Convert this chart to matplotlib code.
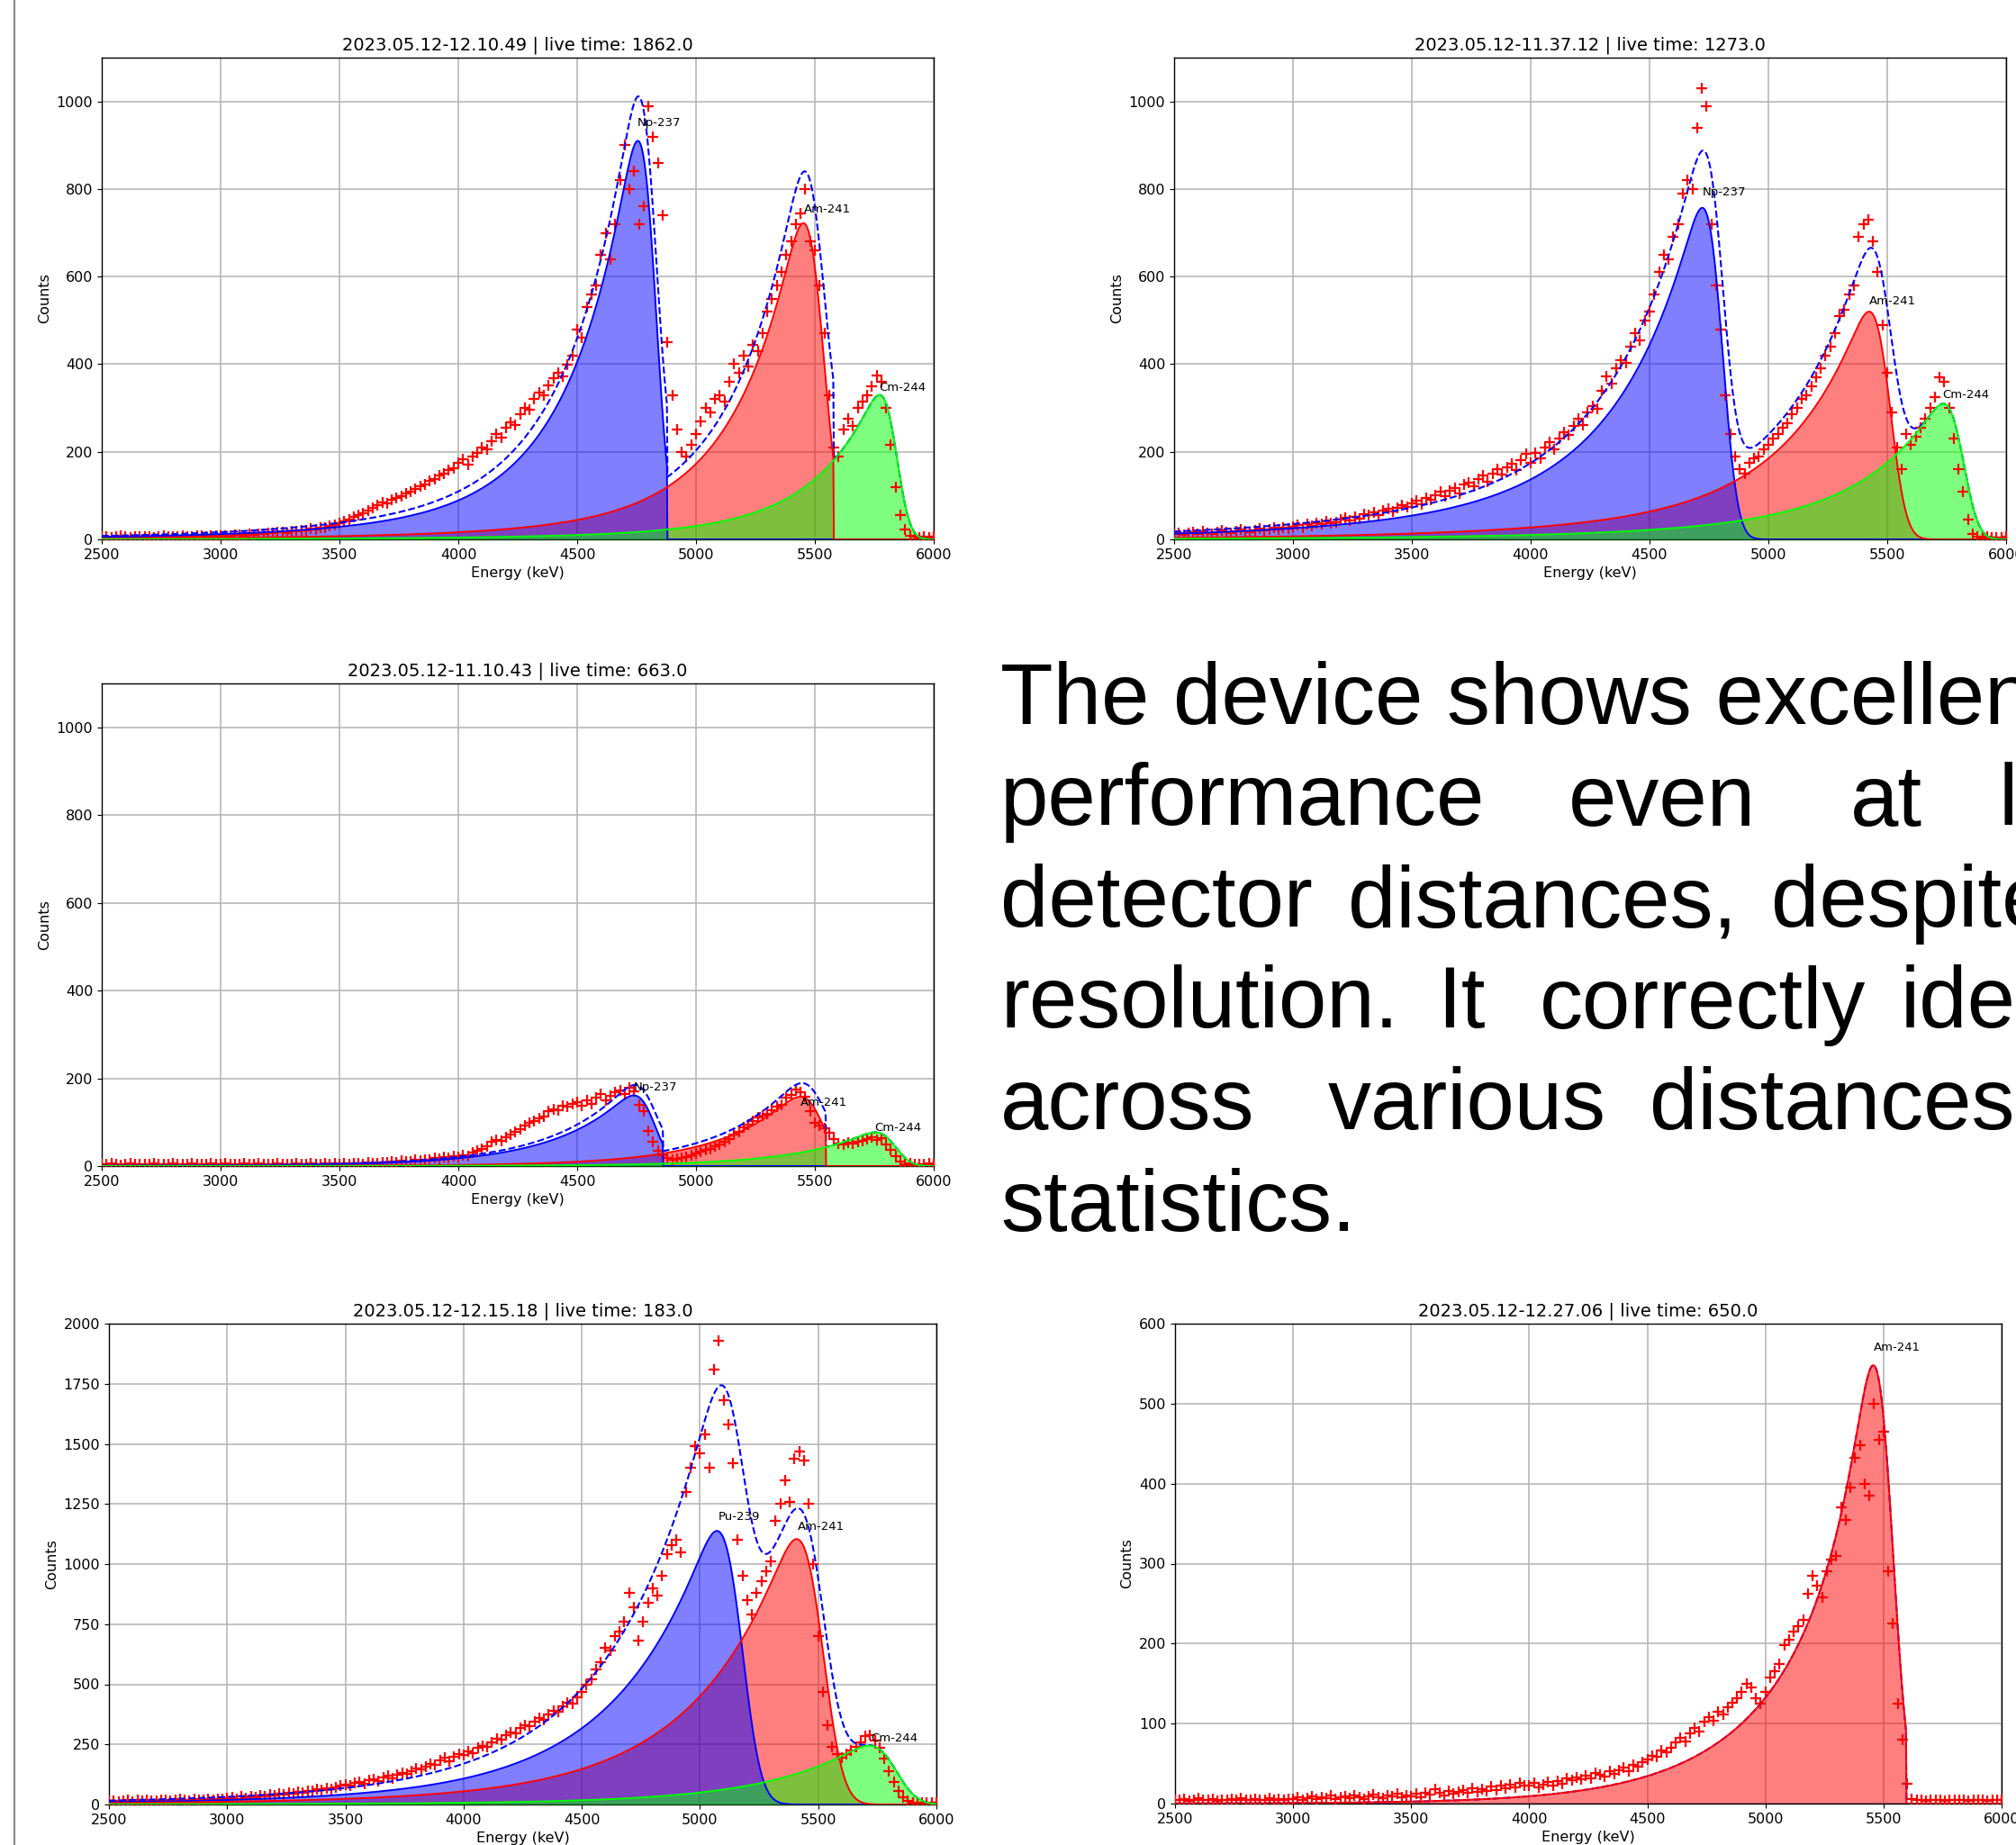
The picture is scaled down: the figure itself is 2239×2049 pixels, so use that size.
import math
import numpy as np
import matplotlib
matplotlib.use("Agg")
import matplotlib.pyplot as plt
from matplotlib.lines import Line2D

# bin centres of the plotted spectra (keV)
energy = np.arange(2500, 6001, 20)

# ---- panel 1 ----
p1_title = "2023.05.12-12.10.49 | live time: 1862.0"
p1_counts = [
    6, 7, 5, 6, 8, 6, 5, 7, 6, 6, 7, 5, 6, 8, 7, 6, 7, 8, 6, 7, 9, 8, 7, 8, 9,
    8, 9, 8, 10, 11, 9, 12, 11, 13, 12, 15, 14, 16, 17, 15, 19, 18, 21, 20, 24, 23, 27, 26, 30, 33,
    38, 42, 46, 52, 55, 60, 66, 72, 78, 85, 82, 90, 95, 98, 104, 110, 115, 122, 126, 134, 138, 146, 150, 158, 162,
    175, 182, 170, 190, 198, 210, 205, 225, 240, 232, 255, 268, 262, 285, 300, 296, 320, 335, 328, 352, 368, 380, 372, 398, 420,
    480, 460, 530, 560, 580, 650, 700, 640, 720, 820, 900, 800, 840, 720, 760, 990, 920, 860, 740, 450, 330, 250, 200, 190, 215,
    240, 270, 300, 290, 320, 330, 315, 360, 400, 380, 420, 395, 445, 430, 470, 520, 550, 580, 610, 650, 680, 720, 745, 800, 680,
    660, 580, 470, 330, 210, 190, 250, 275, 260, 300, 315, 330, 350, 375, 360, 300, 215, 120, 55, 22, 8, 6, 5, 7, 5,
    6,
]
p1_isotopes = ["Np-237", "Am-241", "Cm-244"]
p1_peak_e = [4755, 5452, 5772]
p1_peak_h = [910, 722, 330]
p1_sigma = [47, 54, 44]
p1_cutoff = [4878, 5578, None]
p1_tail = (250, 700, 0.12)
p1_label_x = [4754, 5454, 5768]
p1_label_y = [950, 753, 347]

# ---- panel 2 ----
p2_title = "2023.05.12-11.37.12 | live time: 1273.0"
p2_counts = [
    12, 15, 10, 14, 16, 12, 18, 15, 13, 17, 20, 16, 14, 18, 22, 19, 17, 21, 24, 20, 23, 26, 22, 27, 25,
    28, 32, 26, 35, 30, 38, 34, 42, 36, 40, 45, 50, 44, 52, 48, 58, 55, 62, 56, 66, 70, 63, 72, 78, 74,
    82, 88, 80, 95, 90, 100, 108, 98, 112, 118, 105, 125, 130, 122, 138, 145, 132, 150, 160, 148, 165, 172, 158, 180, 195,
    175, 198, 185, 210, 222, 205, 230, 245, 238, 260, 275, 262, 290, 305, 298, 340, 372, 355, 390, 410, 402, 440, 470, 455, 500,
    520, 560, 610, 650, 640, 690, 720, 790, 820, 800, 940, 1030, 990, 720, 580, 480, 330, 240, 190, 160, 150, 175, 185, 190, 205,
    215, 230, 240, 255, 265, 285, 300, 320, 330, 350, 370, 390, 420, 440, 470, 510, 525, 560, 580, 690, 720, 730, 680, 610, 490,
    380, 290, 210, 160, 240, 215, 235, 255, 275, 300, 325, 370, 360, 300, 230, 160, 110, 45, 12, 6, 5, 6, 5, 4, 5,
    6,
]
p2_isotopes = ["Np-237", "Am-241", "Cm-244"]
p2_peak_e = [4722, 5424, 5736]
p2_peak_h = [757, 520, 310]
p2_sigma = [50, 53, 50]
p2_cutoff = [None, None, None]
p2_tail = (300, 800, 0.22)
p2_label_x = [4723, 5423, 5732]
p2_label_y = [792, 544, 330]

# ---- panel 3 ----
p3_title = "2023.05.12-11.10.43 | live time: 663.0"
p3_counts = [
    5, 4, 6, 5, 3, 5, 6, 4, 5, 5, 4, 6, 5, 4, 5, 6, 5, 4, 5, 6, 4, 5, 5, 6, 4,
    5, 6, 4, 5, 5, 6, 4, 5, 6, 5, 4, 5, 6, 5, 5, 4, 6, 5, 5, 6, 5, 4, 6, 5, 6,
    5, 6, 5, 7, 6, 5, 8, 7, 6, 9, 8, 10, 9, 12, 11, 10, 14, 13, 15, 14, 18, 16, 20, 19, 22,
    20, 25, 22, 30, 34, 38, 45, 55, 60, 58, 66, 72, 78, 85, 92, 98, 102, 108, 112, 125, 130, 128, 138, 135, 142,
    145, 138, 150, 142, 155, 165, 150, 160, 168, 172, 165, 178, 170, 140, 125, 80, 56, 35, 25, 18, 14, 16, 18, 20, 24,
    28, 32, 36, 40, 45, 50, 55, 62, 72, 78, 88, 95, 102, 110, 115, 119, 128, 135, 140, 155, 162, 175, 168, 158, 125,
    98, 92, 86, 75, 62, 52, 50, 54, 52, 56, 58, 62, 66, 60, 64, 50, 36, 22, 10, 5, 6, 5, 4, 5, 6,
    5,
]
p3_isotopes = ["Np-237", "Am-241", "Cm-244"]
p3_peak_e = [4738, 5438, 5754]
p3_peak_h = [161, 158, 77]
p3_sigma = [55, 62, 52]
p3_cutoff = [4860, 5545, None]
p3_tail = (300, 700, 0.05)
p3_label_x = [4738, 5438, 5751]
p3_label_y = [179, 145, 88]

# ---- panel 4 ----
p4_title = "2023.05.12-12.15.18 | live time: 183.0"
p4_counts = [
    14, 16, 12, 15, 18, 13, 17, 15, 19, 14, 16, 18, 20, 15, 17, 21, 19, 16, 22, 18, 20, 23, 19, 24, 22,
    26, 30, 24, 32, 28, 35, 31, 38, 34, 40, 36, 44, 42, 48, 45, 52, 50, 58, 55, 62, 60, 68, 65, 72, 78,
    82, 78, 90, 95, 88, 100, 105, 98, 112, 118, 110, 125, 132, 128, 140, 150, 145, 158, 170, 165, 185, 195, 180, 200, 210,
    205, 220, 215, 235, 245, 240, 260, 275, 268, 290, 300, 295, 318, 330, 325, 345, 360, 352, 375, 390, 385, 410, 425, 418, 445,
    470, 500, 520, 560, 590, 650, 640, 700, 720, 760, 880, 820, 680, 760, 840, 900, 870, 950, 1040, 1080, 1100, 1050, 1300, 1400, 1490,
    1460, 1540, 1400, 1810, 1930, 1680, 1580, 1420, 1100, 950, 850, 790, 880, 930, 970, 1010, 1180, 1250, 1350, 1260, 1440, 1470, 1430, 1250, 1000,
    700, 470, 330, 240, 210, 195, 210, 225, 240, 260, 285, 290, 265, 235, 190, 140, 95, 55, 30, 14, 8, 9, 7, 8, 9,
    8,
]
p4_isotopes = ["Pu-239", "Am-241", "Cm-244"]
p4_peak_e = [5072, 5409, 5716]
p4_peak_h = [1138, 1104, 245]
p4_sigma = [64, 68, 70]
p4_cutoff = [None, None, None]
p4_tail = (380, 900, 0.10)
p4_label_x = [5078, 5413, 5723]
p4_label_y = [1195, 1157, 276]

# ---- panel 5 ----
p5_title = "2023.05.12-12.27.06 | live time: 650.0"
p5_counts = [
    5, 4, 6, 3, 5, 7, 4, 5, 6, 3, 5, 4, 6, 5, 7, 4, 5, 6, 4, 5, 7, 5, 6, 4, 6,
    6, 8, 5, 7, 9, 6, 8, 7, 10, 6, 8, 9, 7, 10, 8, 6, 9, 11, 8, 7, 10, 9, 12, 8, 10,
    9, 12, 8, 14, 11, 18, 13, 10, 16, 12, 15, 17, 13, 19, 15, 18, 16, 21, 17, 22, 19, 24, 20, 26, 23,
    22, 26, 20, 24, 27, 23, 28, 25, 31, 29, 33, 30, 35, 32, 38, 36, 34, 40, 37, 42, 45, 41, 48, 46, 52,
    55, 60, 58, 66, 64, 70, 76, 82, 78, 88, 95, 90, 102, 108, 104, 115, 112, 120, 126, 132, 140, 150, 145, 132, 125,
    140, 158, 166, 175, 198, 205, 215, 222, 230, 262, 285, 272, 258, 290, 305, 310, 370, 355, 395, 432, 448, 400, 385, 500, 455,
    465, 290, 225, 125, 80, 25, 6, 4, 5, 3, 4, 5, 4, 3, 5, 4, 4, 5, 3, 4, 5, 4, 3, 4, 5,
    4,
]
p5_isotopes = ["Am-241"]
p5_peak_e = [5457]
p5_peak_h = [548]
p5_sigma = [54]
p5_cutoff = [5597]
p5_tail = (120, 380, 0.6)
p5_label_x = [5459]
p5_label_y = [570]

# paragraph on the right, one entry per word: (text, x px, line index)
text_words = [
    ("The device shows excellent", 1111, 0),
    ("performance", 1111, 1), ("even", 1742, 1), ("at", 2055, 1), ("large", 2220, 1),
    ("detector", 1111, 2), ("distances,", 1497, 2), ("despite", 1967, 2),
    ("resolution.", 1111, 3), ("It", 1596, 3), ("correctly", 1710, 3), ("identifies", 2111, 3),
    ("across", 1111, 4), ("various", 1475, 4), ("distances", 1832, 4),
    ("statistics.", 1111, 5),
]

fill_colour = {"Np-237": "blue", "Pu-239": "blue", "Am-241": "red", "Cm-244": "lime"}
fill_order = {"Am-241": 1, "Np-237": 2, "Pu-239": 2, "Cm-244": 3}

erfc = np.vectorize(math.erfc)


def tail_shape(d, sigma, tau):
    z = (d / sigma + sigma / tau) / math.sqrt(2)
    return 0.5 * np.exp(d / tau + sigma ** 2 / (2 * tau ** 2)) * erfc(z)


def peak_curve(x, centre, height, sigma, tail, cutoff):
    tau1, tau2, frac = tail
    fine = np.linspace(-400, 200, 1201)
    ref = (1 - frac) * tail_shape(fine, sigma, tau1) + frac * tail_shape(fine, sigma, tau2)
    d = x - centre + fine[np.argmax(ref)]
    y = (1 - frac) * tail_shape(d, sigma, tau1) + frac * tail_shape(d, sigma, tau2)
    y = height * y / ref.max()
    if cutoff is not None:
        y = np.where(x > cutoff, 0.0, y)
    return y


def draw_panel(ax, title, counts, isotopes, peak_e, peak_h, sigma, cutoff, tail,
               label_x, label_y, ymax, ystep):
    xs = np.linspace(2500, 6000, 1401)
    total = np.zeros_like(xs)
    for name, c, h, s, co in zip(isotopes, peak_e, peak_h, sigma, cutoff):
        y = peak_curve(xs, c, h, s, tail, co)
        total += y
        col = fill_colour[name]
        z = fill_order[name]
        ax.fill_between(xs, 0, y, color=col, alpha=0.5, lw=0, zorder=z)
        ax.plot(xs, y, color=col, lw=1.4, zorder=7)
    ax.plot(energy, counts, "+", color="red", ms=9, mew=1.6, zorder=5)
    ax.plot(xs, total, "--", color="blue", lw=1.5, zorder=6)
    for name, lx, ly in zip(isotopes, label_x, label_y):
        ax.text(lx, ly, name, fontsize=9.5, ha="left", va="center", zorder=8)

    ax.set_xlim(2500, 6000)
    ax.set_ylim(0, ymax)
    ax.set_xticks(range(2500, 6001, 500))
    top_tick = ymax if ymax % ystep == 0 and ymax != 1100 else 1000
    ax.set_yticks(np.arange(0, top_tick + 1, ystep))
    ax.tick_params(labelsize=11.5)
    ax.grid(True, color="#b8b8b8", lw=1.2)
    ax.set_axisbelow(True)
    for sp in ax.spines.values():
        sp.set_linewidth(1.0)
    ax.set_title(title, fontsize=14)
    ax.set_xlabel("Energy (keV)", fontsize=11.5)
    ax.set_ylabel("Counts", fontsize=11.5)


W, H = 2239, 2049
fig = plt.figure(figsize=(W / 100, H / 100), dpi=100)


def add_axes(left, right, top, bottom):
    return fig.add_axes([left / W, 1 - bottom / H, (right - left) / W, (bottom - top) / H])


ax1 = add_axes(113, 1037, 64, 599)
draw_panel(ax1, p1_title, p1_counts, p1_isotopes, p1_peak_e, p1_peak_h, p1_sigma,
           p1_cutoff, p1_tail, p1_label_x, p1_label_y, 1100, 200)

ax2 = add_axes(1304, 2228, 64, 599)
draw_panel(ax2, p2_title, p2_counts, p2_isotopes, p2_peak_e, p2_peak_h, p2_sigma,
           p2_cutoff, p2_tail, p2_label_x, p2_label_y, 1100, 200)

ax3 = add_axes(113, 1037, 759, 1295)
draw_panel(ax3, p3_title, p3_counts, p3_isotopes, p3_peak_e, p3_peak_h, p3_sigma,
           p3_cutoff, p3_tail, p3_label_x, p3_label_y, 1100, 200)

ax4 = add_axes(121, 1040, 1470, 2004)
draw_panel(ax4, p4_title, p4_counts, p4_isotopes, p4_peak_e, p4_peak_h, p4_sigma,
           p4_cutoff, p4_tail, p4_label_x, p4_label_y, 2000, 250)

ax5 = add_axes(1305, 2223, 1470, 2003)
draw_panel(ax5, p5_title, p5_counts, p5_isotopes, p5_peak_e, p5_peak_h, p5_sigma,
           p5_cutoff, p5_tail, p5_label_x, p5_label_y, 600, 100)

# paragraph text (runs past the right edge, as in the slide)
first_baseline, line_gap = 804, 112.5
for word, x, line in text_words:
    y = first_baseline + line * line_gap
    fig.text(x / W, 1 - y / H, word, fontsize=69, family="Liberation Sans",
             ha="left", va="baseline")

# thin frame line on the left edge
fig.add_artist(Line2D([16 / W, 16 / W], [0, 1], color="#8a8a8a", lw=1.5))

fig.savefig("out.png", dpi=100)
